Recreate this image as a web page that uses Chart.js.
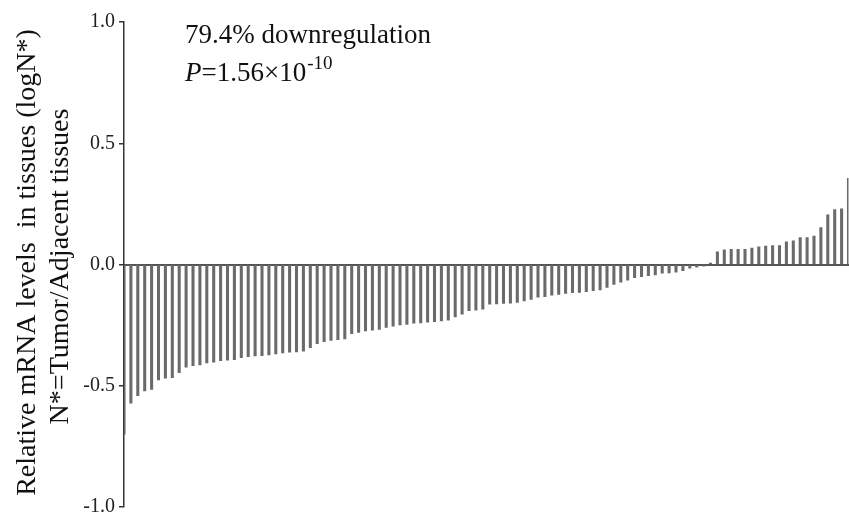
<!DOCTYPE html>
<html>
<head>
<meta charset="utf-8">
<script src="https://cdn.jsdelivr.net/npm/chart.js@4/dist/chart.umd.min.js"></script>
<style>
  html, body { margin: 0; padding: 0; background: #ffffff; overflow: hidden; }
  #chart { display: block; }
</style>
</head>
<body>
<canvas id="chart" width="849" height="523"></canvas>
<script>
// Relative mRNA level per tissue pair, log(Tumor/Adjacent), sorted ascending
const logRatio = [
  -0.700, -0.572, -0.541, -0.521, -0.515, -0.476, -0.469, -0.467, -0.446, -0.423,
  -0.417, -0.414, -0.406, -0.403, -0.397, -0.395, -0.392, -0.384, -0.380, -0.377,
  -0.376, -0.373, -0.369, -0.365, -0.362, -0.360, -0.357, -0.343, -0.326, -0.318,
  -0.313, -0.310, -0.307, -0.285, -0.280, -0.274, -0.271, -0.268, -0.259, -0.254,
  -0.249, -0.247, -0.242, -0.241, -0.238, -0.236, -0.233, -0.230, -0.216, -0.205,
  -0.190, -0.188, -0.184, -0.164, -0.163, -0.160, -0.159, -0.156, -0.150, -0.144,
  -0.135, -0.133, -0.126, -0.123, -0.119, -0.116, -0.115, -0.112, -0.108, -0.105,
  -0.095, -0.082, -0.073, -0.065, -0.054, -0.050, -0.046, -0.043, -0.036, -0.035,
  -0.032, -0.025, -0.015, -0.011, -0.007,  0.006,  0.052,  0.061,  0.063,  0.063,
   0.063,  0.068,  0.073,  0.076,  0.078,  0.078,  0.094,  0.098,  0.111,  0.111,
   0.117,  0.152,  0.205,  0.226,  0.230,  0.355
];

// One category per tissue pair
const samples = logRatio.map((_, i) => 'Pair ' + (i + 1));

// Y axis ticks
const yTickValues = [-1.0, -0.5, 0.0, 0.5, 1.0];
const yTickLabels = ['-1.0', '-0.5', '0.0', '0.5', '1.0'];

// Axis title lines and annotation text
const yTitleLines = ['Relative mRNA levels  in tissues (logN*)', 'N*=Tumor/Adjacent tissues'];
const noteLine1 = '79.4% downregulation';
const notePSymbol = 'P';
const notePValue = '=1.56\u00d710';
const notePExponent = '-10';

const SERIF = '"Liberation Serif", "Times New Roman", serif';

// Draws the rotated two-line y title and the statistics note
const textPlugin = {
  id: 'textPlugin',
  afterDraw(chart) {
    const ctx = chart.ctx;
    const area = chart.chartArea;
    ctx.save();
    ctx.fillStyle = '#111111';

    // y title, rotated
    ctx.save();
    ctx.font = '28px ' + SERIF;
    ctx.textAlign = 'center';
    ctx.textBaseline = 'alphabetic';
    const midY = (area.top + area.bottom) / 2;
    const baselines = [35, 68];
    yTitleLines.forEach((line, i) => {
      ctx.save();
      ctx.translate(baselines[i], midY + (i === 0 ? -2 : 2));
      ctx.rotate(-Math.PI / 2);
      ctx.fillText(line, 0, 0);
      ctx.restore();
    });
    ctx.restore();

    // statistics note
    const x0 = 185;
    ctx.textAlign = 'left';
    ctx.textBaseline = 'alphabetic';
    ctx.font = '27px ' + SERIF;
    ctx.fillText(noteLine1, x0, 43);

    ctx.font = 'italic 27px ' + SERIF;
    ctx.fillText(notePSymbol, x0, 81);
    let x = x0 + ctx.measureText(notePSymbol).width;
    ctx.font = '27px ' + SERIF;
    ctx.fillText(notePValue, x, 81);
    x += ctx.measureText(notePValue).width + 1;
    ctx.font = '19px ' + SERIF;
    ctx.fillText(notePExponent, x, 69);

    ctx.restore();
  }
};

new Chart(document.getElementById('chart'), {
  type: 'bar',
  data: {
    labels: samples,
    datasets: [{
      data: logRatio,
      backgroundColor: '#6a6a6a',
      borderWidth: 0,
      barThickness: 2.4
    }]
  },
  options: {
    responsive: false,
    devicePixelRatio: 1,
    animation: false,
    layout: { padding: { top: 22, bottom: 16, left: 0, right: 0.5 } },
    plugins: {
      legend: { display: false },
      tooltip: { enabled: false }
    },
    scales: {
      x: {
        type: 'category',
        offset: false,
        position: { y: 0 },
        z: 1,
        grid: { display: false },
        ticks: { display: false },
        border: { display: true, color: '#555555', width: 2 }
      },
      y: {
        min: -1,
        max: 1,
        afterBuildTicks(scale) {
          scale.ticks = yTickValues.map(v => ({ value: v }));
        },
        afterFit(scale) {
          scale.width = 124;
        },
        ticks: {
          padding: 4,
          color: '#222222',
          font: { family: SERIF, size: 20 },
          callback: (value, index) => yTickLabels[index]
        },
        grid: {
          drawOnChartArea: false,
          drawTicks: true,
          tickLength: 5,
          color: '#333333',
          lineWidth: 1.5
        },
        border: { display: true, color: '#333333', width: 1.5 }
      }
    }
  },
  plugins: [textPlugin]
});
</script>
</body>
</html>
